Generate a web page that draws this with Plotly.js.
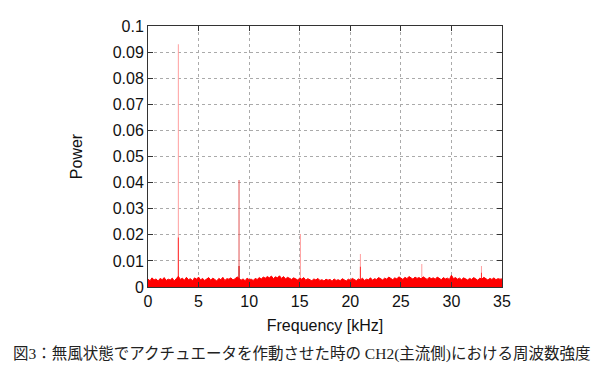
<!DOCTYPE html>
<html>
<head>
<meta charset="utf-8">
<script src="https://cdn.plot.ly/plotly-3.0.1.min.js"></script>
<style>html,body{margin:0;padding:0;background:#fff;}#chart{width:604px;height:374px;}</style>
</head>
<body>
<div id="chart"></div>
<script>
// Noise floor sampled every 0.2 kHz from 0 to 35 kHz
const freqStart = 0;
const freqStep = 0.2;
const noisePower = [
 0.0030,0.0024,0.0035,0.0027,0.0031,0.0022,0.0033,0.0028,0.0036,0.0025,0.0030,0.0027,0.0034,0.0023,0.0032,
 0.0041,0.0029,0.0034,0.0026,0.0037,0.0028,0.0032,0.0024,0.0035,0.0030,0.0038,0.0027,0.0033,0.0025,0.0031,
 0.0036,0.0026,0.0034,0.0029,0.0023,0.0033,0.0028,0.0037,0.0025,0.0032,0.0030,0.0035,0.0027,0.0031,0.0039,
 0.0033,0.0026,0.0031,0.0024,0.0034,0.0028,0.0030,0.0025,0.0033,0.0029,0.0036,0.0031,0.0038,0.0034,0.0040,
 0.0035,0.0042,0.0032,0.0039,0.0035,0.0043,0.0033,0.0040,0.0031,0.0037,0.0034,0.0029,0.0035,0.0031,0.0027,
 0.0034,0.0030,0.0036,0.0026,0.0032,0.0029,0.0024,0.0031,0.0027,0.0033,0.0025,0.0028,0.0023,0.0030,0.0026,
 0.0029,0.0022,0.0031,0.0025,0.0028,0.0024,0.0032,0.0027,0.0023,0.0030,0.0026,0.0033,0.0028,0.0024,0.0031,
 0.0027,0.0034,0.0025,0.0030,0.0028,0.0035,0.0026,0.0032,0.0029,0.0036,0.0031,0.0027,0.0034,0.0030,0.0038,
 0.0033,0.0028,0.0035,0.0031,0.0039,0.0034,0.0029,0.0037,0.0032,0.0040,0.0035,0.0030,0.0038,0.0033,0.0036,
 0.0031,0.0039,0.0034,0.0029,0.0037,0.0032,0.0035,0.0030,0.0038,0.0033,0.0028,0.0036,0.0031,0.0034,0.0029,
 0.0045,0.0032,0.0036,0.0030,0.0034,0.0028,0.0035,0.0031,0.0027,0.0033,0.0029,0.0036,0.0032,0.0026,0.0034,
 0.0030,0.0037,0.0031,0.0027,0.0033,0.0029,0.0035,0.0028,0.0032,0.0030,0.0031
];
const noiseFreq = noisePower.map((_, i) => +(freqStart + i * freqStep).toFixed(2));

// Narrow spectral peaks (kHz, power)
const spikeFreq  = [3.0,   3.0,   9.0,   9.0,    15.07,  21.0,   21.0,   27.07,  30.0,   32.97,  32.97];
const spikePower = [0.093, 0.019, 0.041, 0.008,  0.0203, 0.0126, 0.0078, 0.0088, 0.0045, 0.0080, 0.0055];
const spikeColor = ['#ffa0a0','#ff3030','#e05555','#cc0000','#ffa0a0','#ffa0a0','#ff3030','#ffa0a0','#ffa0a0','#ffa0a0','#ff3030'];

const xTicks = [0, 5, 10, 15, 20, 25, 30, 35];
const yTicks = [0, 0.01, 0.02, 0.03, 0.04, 0.05, 0.06, 0.07, 0.08, 0.09, 0.1];
const yTickText = ['0','0.01','0.02','0.03','0.04','0.05','0.06','0.07','0.08','0.09','0.1'];

const traces = [
  {
    type: 'bar',
    x: spikeFreq,
    y: spikePower,
    width: 0.1,
    marker: {color: spikeColor, line: {width: 0}},
    hoverinfo: 'x+y'
  },
  {
    type: 'scatter',
    mode: 'lines',
    x: noiseFreq,
    y: noisePower,
    fill: 'tozeroy',
    fillcolor: '#ff0000',
    line: {color: '#ff0000', width: 1},
    hoverinfo: 'x+y'
  }
];

const labelFont = {family: 'Liberation Sans, Arial, sans-serif', size: 16, color: '#111'};

const axisCommon = {
  showline: true,
  mirror: 'ticks',
  linecolor: '#333',
  linewidth: 1,
  ticks: 'inside',
  ticklen: 5,
  tickcolor: '#333',
  showgrid: true,
  gridcolor: '#aaaaaa',
  griddash: 'dot',
  gridwidth: 1,
  zeroline: false,
  tickfont: labelFont
};

const layout = {
  width: 604,
  height: 374,
  margin: {l: 148, r: 102, t: 26, b: 87},
  paper_bgcolor: '#fff',
  plot_bgcolor: '#fff',
  showlegend: false,
  barmode: 'overlay',
  xaxis: Object.assign({}, axisCommon, {
    range: [0, 35],
    tickvals: xTicks,
    title: {text: 'Frequency [kHz]', font: labelFont, standoff: 10}
  }),
  yaxis: Object.assign({}, axisCommon, {
    range: [0, 0.1],
    tickvals: yTicks,
    ticktext: yTickText,
    title: {text: 'Power', font: labelFont, standoff: 26}
  }),
  annotations: [{
    xref: 'paper', yref: 'paper',
    x: 0.434, y: -0.255,
    xanchor: 'center', yanchor: 'middle',
    showarrow: false,
    text: '図3：無風状態でアクチュエータを作動させた時の CH2(主流側)における周波数強度',
    font: {family: 'Liberation Serif, "Noto Sans CJK JP", serif', size: 15.5, color: '#222'}
  }]
};

Plotly.newPlot('chart', traces, layout, {displayModeBar: false, staticPlot: true});
</script>
</body>
</html>
